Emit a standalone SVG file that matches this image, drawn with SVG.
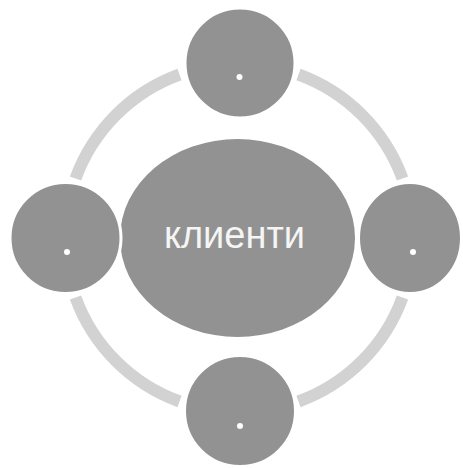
<svg xmlns="http://www.w3.org/2000/svg" width="463" height="468" viewBox="0 0 463 468">
<style>
.ring{fill:none;stroke:#d2d2d2;stroke-width:12;stroke-linecap:butt}
.node{fill:#929292;stroke:#ffffff;stroke-width:3}
.dot{fill:#ffffff}
.label{font-family:"Liberation Sans",Arial,sans-serif;font-size:38px;fill:#f5f5f5;text-anchor:middle}
</style>
<rect width="463" height="468" fill="#ffffff"/>
<g id="connectors">
<path class="ring" d="M179.5,74.5 A174,174 0 0 0 75.5,178.5"/>
<path class="ring" d="M298.5,74.5 A174,174 0 0 1 402.5,178.5"/>
<path class="ring" d="M402.5,297.5 A174,174 0 0 1 298.5,401.5"/>
<path class="ring" d="M179.5,401.5 A174,174 0 0 1 75.5,297.5"/>
</g>
<g id="center">
<ellipse cx="237.5" cy="238" rx="117.5" ry="99" fill="#929292"/>
<text class="label" x="234.5" y="248">клиенти</text>
</g>
<g id="node-top">
<circle class="node" cx="240" cy="63" r="55"/>
<circle class="dot" cx="239.5" cy="77" r="3"/>
</g>
<g id="node-left">
<circle class="node" cx="65.5" cy="238" r="55.5"/>
<circle class="dot" cx="67" cy="252" r="3"/>
</g>
<g id="node-right">
<ellipse class="node" cx="410" cy="238" rx="51.5" ry="55.5"/>
<circle class="dot" cx="413" cy="252" r="3"/>
</g>
<g id="node-bottom">
<circle class="node" cx="240" cy="411" r="55.5"/>
<circle class="dot" cx="240" cy="426" r="3"/>
</g>
</svg>
